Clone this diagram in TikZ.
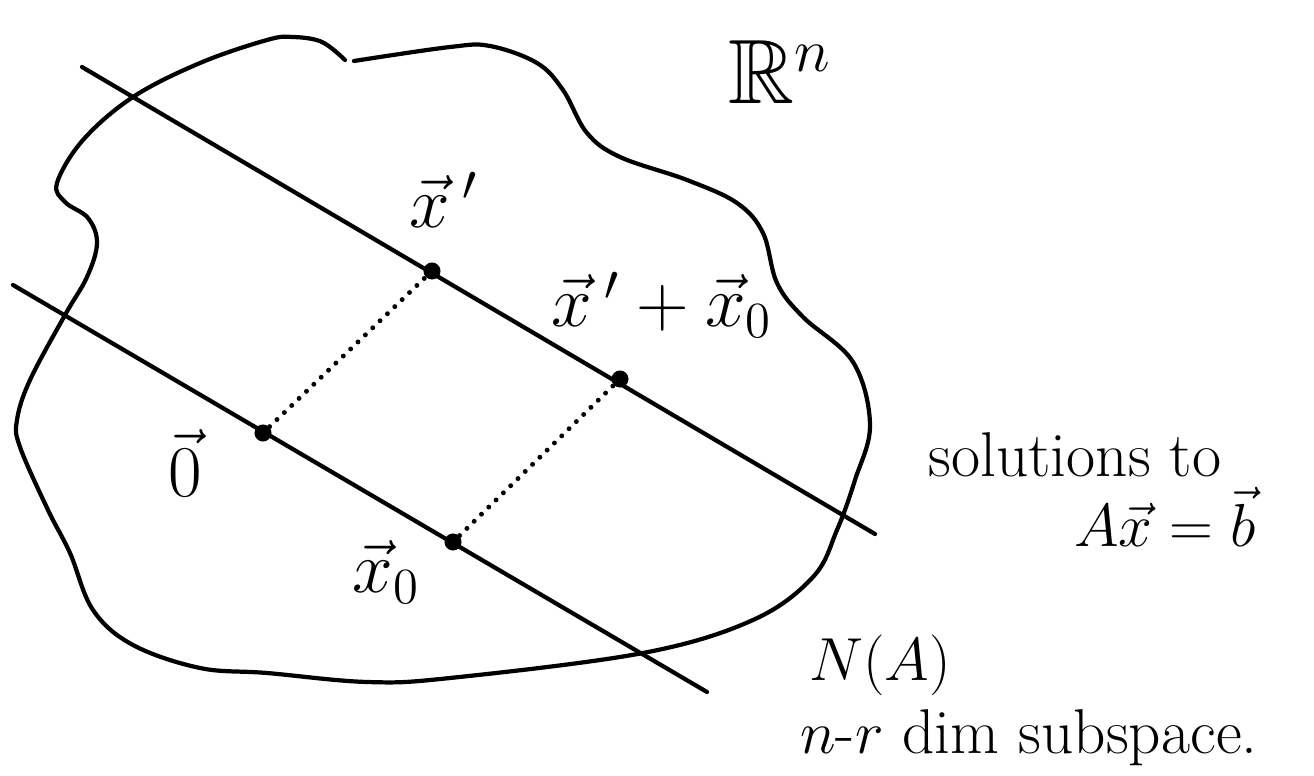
\documentclass[tikz,border=0pt]{standalone}
\usepackage{amsmath}
\usepackage{amssymb}

\begin{document}
\begin{tikzpicture}[
    x=0.01cm, y=-0.01cm,
    curve/.style={line width=1.2pt, line cap=round, line join=round},
    dot/.style={
        circle,
        fill,
        inner sep=0pt,
        minimum size=0.17cm
    },
    dotline/.style={line width=1.4pt, dash pattern=on 0pt off 2.9pt, line cap=round},
    label/.style={inner sep=1pt, font=\fontsize{20}{22}\selectfont},
    note/.style={inner sep=1pt, align=left, font=\fontsize{18}{20}\selectfont}
]
\useasboundingbox (0,0) rectangle (1314,776);

% the region R^n
\draw[curve] plot[smooth, tension=0.6] coordinates {
    (354,61) (450,47) (490,46) (537,63) (563,90) (587,133) (620,157)
    (687,180) (737,203) (763,233) (777,283) (803,317) (853,362)
    (870,425) (855,480) (837,530) (813,577) (753,620) (643,653)
    (450,678) (367,682) (267,673) (200,668) (133,645) (93,610)
    (70,553) (48,510) (20,447) (17,420) (30,380) (65,315) (87,277)
    (97,243) (88,218) (65,202) (57,183) (83,140) (133,97) (200,63)
    (267,40) (293,37) (322,42) (345,60)};

\coordinate (solA) at (82,67);
\coordinate (solB) at (875,534);
\coordinate (nulA) at (13,285);
\coordinate (nulB) at (707,692);

\draw[curve] (solA) -- (solB);
\draw[curve] (nulA) -- (nulB);

\node[dot] (xp) at (432,271) {};
\node[dot] (xpx) at (620,379) {};
\node[dot] (zero) at (263,433) {};
\node[dot] (xzero) at (453,542) {};

\draw[dotline] (zero) -- (xp);
\draw[dotline] (xzero) -- (xpx);

\node[font=\fontsize{26}{28}\selectfont] (rn) at (780,72) {$\mathbb{R}^n$};
\node[label] (lxp) at (444,200) {$\vec{x}\,'$};
\node[label] (lxpx) at (662,305) {$\vec{x}\,'+\vec{x}_0$};
\node[label] (lzero) at (185,463) {$\vec{0}$};
\node[label] (lxzero) at (386,572) {$\vec{x}_0$};

\node[note] (sol) at (1075,455) {solutions to};
\node[note] (eq) at (1165,517) {$A\vec{x}=\vec{b}$};
\node[note] (na) at (880,665) {$N(A)$};
\node[note] (dim) at (1029,738) {$n$-$r$ dim subspace.};

\end{tikzpicture}
\end{document}
